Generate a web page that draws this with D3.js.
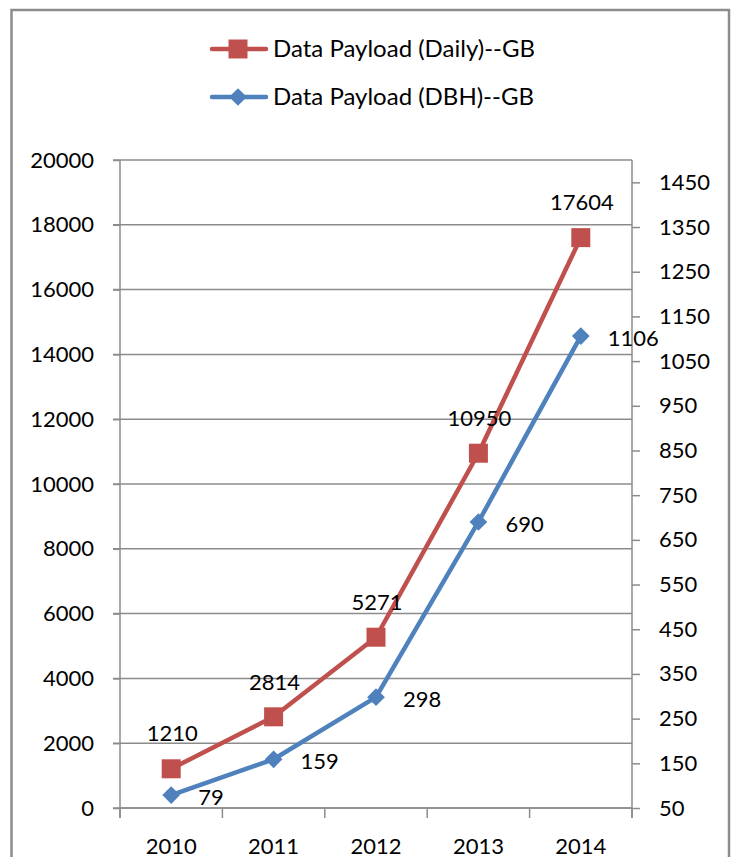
<!DOCTYPE html>
<html><head><meta charset="utf-8">
<script src="https://cdn.jsdelivr.net/npm/d3@7"></script>
<style>body{margin:0;background:#fff}svg{display:block}</style>
</head><body>
<svg id="c" width="734" height="857"></svg>
<script>
const years = ["2010","2011","2012","2013","2014"];
const daily = [1210, 2814, 5271, 10950, 17604];
const dbh = [79, 159, 298, 690, 1106];
const leftTicks = [0,2000,4000,6000,8000,10000,12000,14000,16000,18000,20000];
const rightTicks = [50,150,250,350,450,550,650,750,850,950,1050,1150,1250,1350,1450];
const seriesNames = ["Data Payload (Daily)--GB","Data Payload (DBH)--GB"];

(function(){
const W=734,H=857;
const svg=d3.select("#c");
const FONT="Lato, 'Open Sans', sans-serif";
const RED="#C0504D", BLUE="#4F81BD", GRID="#8c8c8c";
const pL=120, pR=632, pT=160, pB=808;

svg.append("rect").attr("x",11.5).attr("y",10).attr("width",717.5).attr("height",H+20)
  .attr("fill","none").attr("stroke",GRID).attr("stroke-width",2.5);

const x=d3.scaleBand().domain(years).range([pL,pR]);
const yL=d3.scaleLinear().domain([0,20000]).range([pB,pT]);
const yR=d3.scaleLinear().domain([50,1500]).range([pB,pT]);

svg.append("g").selectAll("line").data(leftTicks).join("line")
  .attr("x1",pL-7).attr("x2",pR).attr("y1",d=>yL(d)).attr("y2",d=>yL(d))
  .attr("stroke",GRID).attr("stroke-width",1.5);

const gL=svg.append("g").attr("transform",`translate(${pL},0)`)
  .call(d3.axisLeft(yL).tickValues(leftTicks).tickSize(7).tickPadding(19).tickFormat(d3.format("d")));
const gR=svg.append("g").attr("transform",`translate(${pR},0)`)
  .call(d3.axisRight(yR).tickValues(rightTicks).tickSize(8).tickPadding(19).tickFormat(d3.format("d")));
const xTicks=years.map(d=>x(d)).concat([pR]);
const gX=svg.append("g").attr("transform",`translate(0,${pB})`)
  .call(d3.axisBottom(x).tickSize(0).tickPadding(30));
gX.selectAll(".tick line").remove();
gX.append("g").selectAll("line").data(xTicks).join("line")
  .attr("x1",d=>d).attr("x2",d=>d).attr("y1",0).attr("y2",10)
  .attr("stroke",GRID).attr("stroke-width",1.5);

[gL,gR,gX].forEach(g=>{
  g.selectAll(".domain").attr("stroke",GRID).attr("stroke-width",1.5);
  g.selectAll(".tick line").attr("stroke",GRID).attr("stroke-width",1.5);
  g.selectAll("text").attr("font-family",FONT).attr("font-size",22).attr("fill","#000");
});
gL.select(".domain").attr("d",`M0,${pT}V${pB+10}`);
gR.select(".domain").attr("d",`M0,${pT}V${pB+10}`);
gX.select(".domain").attr("d",`M${pL},0H${pR}`);

const cx=d=>x(d)+x.bandwidth()/2;
const lineR=d3.line().x((d,i)=>cx(years[i])).y(d=>yL(d));
const lineB=d3.line().x((d,i)=>cx(years[i])).y(d=>yR(d));
svg.append("path").attr("d",lineR(daily)).attr("fill","none").attr("stroke",RED).attr("stroke-width",4.5).attr("stroke-linejoin","round");
svg.append("path").attr("d",lineB(dbh)).attr("fill","none").attr("stroke",BLUE).attr("stroke-width",4.5).attr("stroke-linejoin","round");

const sq=d3.symbol().type(d3.symbolSquare).size(361);
const di=d3.symbol().type(d3.symbolDiamond2).size(200);
svg.append("g").selectAll("path").data(daily).join("path")
  .attr("d",sq).attr("fill",RED).attr("transform",(d,i)=>`translate(${cx(years[i])},${yL(d)})`);
svg.append("g").selectAll("path").data(dbh).join("path")
  .attr("d",di).attr("fill",BLUE).attr("transform",(d,i)=>`translate(${cx(years[i])},${yR(d)})`);

svg.append("g").selectAll("text").data(daily).join("text")
  .attr("x",(d,i)=>cx(years[i])+1).attr("y",(d,i)=>yL(d)-35).attr("dy","0.35em")
  .attr("text-anchor","middle").attr("font-family",FONT).attr("font-size",22).text(d=>d);
svg.append("g").selectAll("text").data(dbh).join("text")
  .attr("x",(d,i)=>cx(years[i])+27).attr("y",(d,i)=>yR(d)+2).attr("dy","0.35em")
  .attr("text-anchor","start").attr("font-family",FONT).attr("font-size",22).text(d=>d);

const legY=[49,97], colors=[RED,BLUE], syms=[sq,di];
seriesNames.forEach((n,i)=>{
  const g=svg.append("g");
  g.append("line").attr("x1",212).attr("x2",266).attr("y1",legY[i]).attr("y2",legY[i])
    .attr("stroke",colors[i]).attr("stroke-width",4.5).attr("stroke-linecap","round");
  g.append("path").attr("d",syms[i]).attr("fill",colors[i]).attr("transform",`translate(238,${legY[i]})`);
  g.append("text").attr("x",273).attr("y",legY[i]).attr("dy","0.35em")
    .attr("font-family",FONT).attr("font-size",24).text(n);
});
})();
</script>
</body></html>
